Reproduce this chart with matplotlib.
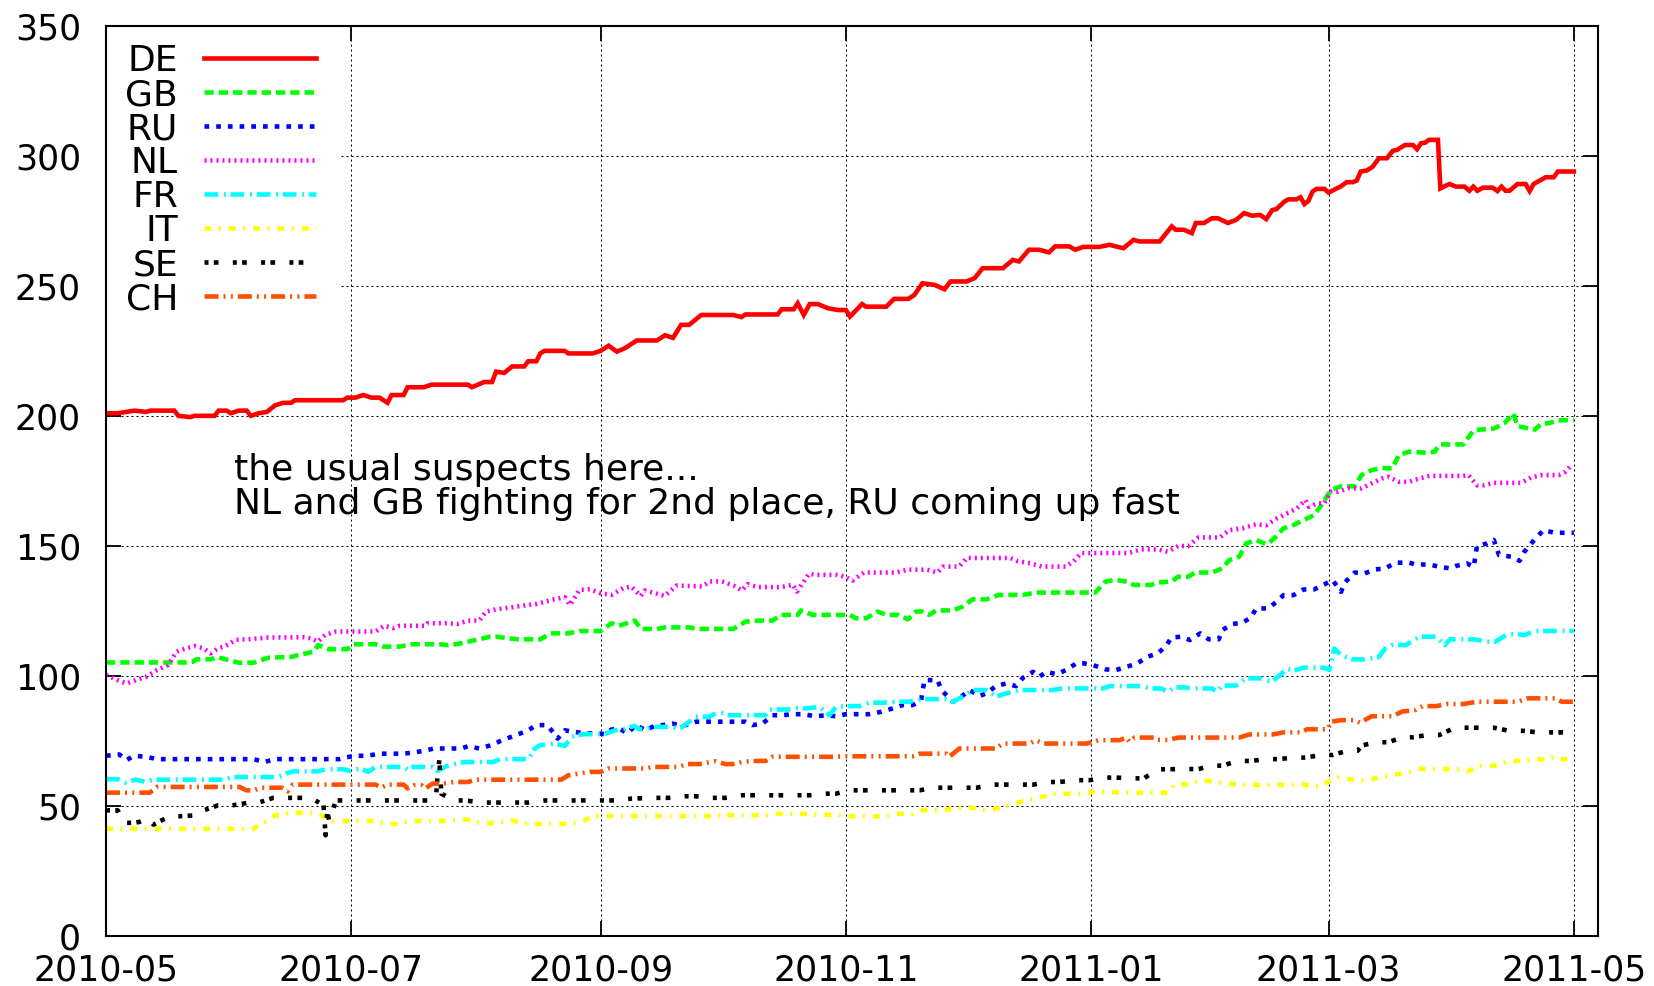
import datetime as dt
import numpy as np
import matplotlib
matplotlib.use("Agg")
import matplotlib.pyplot as plt
import matplotlib.dates as mdates
from matplotlib.patches import Rectangle

plt.rcParams['font.family'] = ['DejaVu Sans']
plt.rcParams['lines.scale_dashes'] = False

# ---------------- data (day offset from 2010-05-01, value) ----------------
START = dt.date(2010, 5, 1)
COUNTRIES = ['DE', 'GB', 'RU', 'NL', 'FR', 'IT', 'SE', 'CH']
Y_TICKS = [0, 50, 100, 150, 200, 250, 300, 350]
ANNOTATION = ["the usual suspects here...",
              "NL and GB fighting for 2nd place, RU coming up fast"]

DE = [(0, 201), (3, 201), (7, 202), (10, 201.5), (11, 202), (17, 202), (18, 200), (21, 199.5),
      (22, 200), (27, 200), (28, 202), (30, 202), (31, 201), (33, 202), (35, 202), (36, 200),
      (38, 201), (40, 201.5), (42, 204), (44, 205), (46, 205), (47, 206), (59, 206), (60, 207),
      (62, 207), (64, 208), (66, 207), (68, 207), (70, 205), (71, 208), (74, 208), (75, 211),
      (79, 211), (81, 212), (90, 212), (91, 211), (94, 213), (96, 213), (97, 217), (99, 216.5),
      (101, 219), (104, 219), (105, 221), (107, 221), (108, 224), (109, 225), (114, 225),
      (115, 224), (121, 224), (123, 225), (125, 227), (127, 224.7), (129, 226), (132, 229),
      (137, 229), (139, 231), (141, 230), (143, 235), (145, 235), (148, 238.8), (156, 238.8),
      (158, 238), (159, 239), (167, 239), (168, 241), (171, 241), (172, 243.3), (173.5, 238.8),
      (175, 243), (177, 243), (179.5, 241.4), (182, 240.7), (184, 240.7), (185, 238.2),
      (188, 243), (189, 242), (194, 242), (196, 245), (199.5, 245), (201, 246.5), (203, 251),
      (206, 250.4), (208.5, 248.7), (210, 251.7), (214, 251.7), (216, 253), (218, 256.8),
      (223, 256.8), (225.5, 260), (227, 259.4), (229.5, 263.9), (232, 263.9), (234.5, 262.9),
      (236, 265.2), (239.5, 265.2), (241, 263.9), (243, 265), (247, 265), (249.5, 265.8),
      (253, 264.5), (255.5, 267.7), (257, 267.1), (262, 267.1), (265, 272.9), (266, 271.6),
      (268, 271.6), (270, 270.3), (271, 274.2), (273, 274.2), (275, 276), (276.5, 276),
      (279, 274.2), (281, 275.4), (283, 278), (285, 277), (287, 277.3), (288.5, 275.7),
      (290, 279.2), (291, 279.5), (293, 282.4), (294, 283.3), (296, 283.3), (297, 284.1),
      (298, 281.5), (299, 282.7), (300, 286.3), (301, 287.3), (303, 287.3), (304, 285.9),
      (306, 287.5), (307, 288.2), (308.5, 289.9), (310, 289.9), (311, 290.5), (312, 294),
      (313.5, 294.4), (315, 295.9), (316.5, 299.1), (318.5, 299.1), (320, 302), (321, 302.3),
      (323, 304.2), (325, 304.2), (326, 302.6), (327, 304.9), (328, 305.1), (329, 306.2),
      (331.2, 306.2), (331.8, 287.5), (334, 289.2), (335.7, 288.2), (337.8, 288.2), (339, 286.6),
      (340, 288.2), (341, 286.6), (342.4, 287.8), (344.8, 287.8), (346, 286.5), (347, 288.2),
      (348, 286.6), (349, 286.6), (351, 289.2), (353, 289.2), (354, 286.5), (355, 289.2),
      (358, 291.8), (360, 291.8), (361, 294), (365, 294)]

GB = [(0, 105.1), (20, 105.1), (21.6, 105.4), (22.5, 106.3), (26, 106.3), (27.8, 107.1),
      (30.5, 106), (33, 105), (36.7, 105), (40.3, 106.9), (43, 107.1), (45.6, 107.1),
      (49.2, 108.4), (51.8, 109.3), (52.7, 111.8), (55.4, 110.2), (60, 110.2), (61.6, 112.1),
      (67, 112.1), (69, 111.2), (73, 111.2), (76, 112.1), (83, 112.1), (85, 111.8), (87.4, 112.2),
      (90, 113.1), (92.8, 114), (95.4, 115), (97.2, 115), (100, 114.4), (102.5, 114), (108, 114),
      (110.6, 116.3), (115, 116.3), (117.7, 117.2), (123, 117.2), (125.7, 120.2), (127.5, 119.2),
      (131.5, 121.2), (133, 118), (137, 118), (139, 118.6), (145, 118.6), (147, 118), (156, 118),
      (159, 120.8), (162.4, 121.2), (165.7, 121.2), (168, 123.4), (172, 123.4), (172.8, 125.1),
      (175.7, 123.4), (185, 123.4), (186.5, 122.1), (189, 122.1), (191.9, 124.7), (194, 123.4),
      (197, 123.4), (199.4, 121.7), (201.4, 124.7), (203, 124.7), (204.7, 123.4), (206.4, 125.1),
      (210.6, 125.1), (213, 126.6), (215.5, 129.4), (219, 129.4), (222, 131.1), (228, 131.1),
      (231.3, 132), (246, 132), (248.5, 136.2), (251, 136.9), (253.9, 136.2), (255.6, 134.9),
      (259.8, 134.9), (261.5, 135.9), (264.9, 136.2), (266.6, 138.1), (269.1, 138.1),
      (270.8, 139.7), (275, 139.7), (277.6, 141.3), (279.3, 144.5), (281.8, 145.8),
      (283.5, 150.9), (286, 152.2), (288.5, 150.6), (290.2, 152.4), (292.8, 156.7), (295.3, 158),
      (297.8, 159.9), (300.4, 161.8), (302.5, 166.3), (304.6, 171.4), (307.1, 172.9),
      (310.5, 172.9), (312.2, 177.2), (314.7, 179.1), (317.3, 180), (319.8, 179.7),
      (321.5, 184.9), (324, 186.2), (328.2, 185.8), (330.4, 186.2), (331.6, 189), (337.5, 189),
      (340.1, 194.5), (345.1, 195.1), (347.7, 197.1), (350, 200.9), (351, 196), (355.3, 194.7),
      (357, 197.1), (358.6, 197.1), (361.2, 198.3), (365, 198.3)]

RU = [(0, 69.2), (3.3, 69.7), (5.1, 67.5), (6.9, 69.2), (10, 68.8), (12.7, 67.9), (36.7, 67.9),
      (39.4, 66.8), (42, 67.9), (58, 67.9), (59.4, 68.5), (62, 69.2), (65, 69.2), (67.9, 70),
      (74, 70), (76.3, 70.4), (79, 71.1), (81.6, 72), (88.3, 72), (90.1, 72.9), (92.8, 72),
      (95.9, 73.3), (98.1, 74.9), (100.3, 76.2), (102.5, 77.5), (104.8, 78.8), (107, 81),
      (109.7, 81), (111.4, 77.8), (112.3, 75.8), (114.1, 79), (116.3, 78.4), (119.5, 77.8),
      (122.1, 77.8), (123.9, 77.5), (125.7, 79.3), (127.6, 79.7), (129.7, 77.8), (131.7, 81),
      (134.2, 79), (136.8, 81), (138.4, 81), (140.8, 81.6), (143.3, 80.6), (146.7, 82.3),
      (159, 82.3), (160.8, 81), (163.3, 81.6), (165.7, 84.8), (168.2, 84.8), (170.7, 85.2),
      (173.2, 85.2), (176.5, 84.4), (179, 84.8), (181.5, 84.4), (184, 85.2), (189.8, 85.2),
      (192.7, 86.1), (195.6, 87.4), (198.1, 88.7), (200.6, 88.7), (202.7, 90.6), (203.5, 98.3),
      (206.8, 98.3), (207.7, 94.5), (210.6, 90), (212.2, 91.3), (214.7, 94.5), (217.2, 92.2),
      (218.9, 93.2), (221.3, 96), (223.8, 97), (226.3, 96), (228, 99.2), (230.5, 101.5),
      (232.1, 99.6), (233.8, 101.5), (236.3, 100.6), (238.8, 102.2), (241.3, 104.8),
      (242.9, 104.8), (245.4, 104.1), (248.7, 102.4), (251.2, 102.2), (253.9, 103.5),
      (256.4, 104.7), (259, 107.3), (261.5, 108.6), (263.6, 111.4), (264.9, 114.7), (267.4, 115),
      (269.5, 113.7), (272.1, 116.3), (274.2, 114), (276.7, 114), (277.6, 117.6), (280.1, 119.9),
      (282.6, 120.4), (284.7, 122.4), (286, 125.9), (289, 125.9), (291.1, 128.5), (292.8, 131),
      (295.3, 131), (297.8, 133.2), (300.4, 133.2), (302.9, 135.1), (305, 136.8), (307.1, 132.3),
      (308, 135.8), (310.5, 139.7), (313, 139.4), (315.6, 140.9), (318.1, 141.3), (320.6, 143.5),
      (324, 143.5), (325.7, 142.8), (329.1, 142.8), (331.6, 141.9), (334.2, 141.3),
      (335.8, 142.3), (338.4, 143.2), (340.1, 141.9), (340.9, 149.9), (343.4, 150.9),
      (345.1, 152.2), (346.4, 146.4), (349.4, 145.8), (351.5, 144.2), (352.7, 147.7),
      (354.4, 150.9), (357.4, 156), (360.3, 155), (365, 155)]

NL = [(0, 100.3), (2.9, 98.3), (5.1, 97), (7.4, 98.3), (10, 99.6), (12.7, 102.2), (15.4, 104.1),
      (17.6, 109.3), (19.8, 110.5), (22, 111.4), (24.3, 110.5), (26, 108.6), (27.8, 110.5),
      (29.6, 111.4), (32.3, 113.8), (35.8, 114.1), (40.3, 114.7), (49.2, 114.8), (51, 114.4),
      (52.7, 113.1), (54.5, 115.7), (57.2, 117), (67, 117), (69.2, 119.2), (71.4, 118.3),
      (73, 119.2), (79.4, 119.2), (80, 120.2), (84.8, 120.2), (87.4, 119.9), (90, 121.2),
      (92.8, 121.2), (94.5, 124.7), (97.2, 125.6), (100.8, 126.3), (103.4, 126.9), (107, 127.6),
      (111.4, 129.4), (114.1, 130.2), (115.4, 127.2), (117.7, 133), (120.3, 133.3), (123, 131.7),
      (125.7, 131.1), (128.6, 133.7), (130.6, 134.3), (133, 130.7), (134, 132.8), (136.5, 131.8),
      (138.9, 130.7), (141.9, 134.7), (148.2, 134.3), (150.2, 136.3), (153.2, 136.3),
      (156.1, 134.6), (158.1, 132.8), (159.5, 135.2), (162, 134.1), (167.9, 134.1), (170.8, 135),
      (171.8, 132.4), (174.8, 139.2), (176.7, 138.8), (181.6, 138.8), (183.6, 138.2),
      (185.6, 136.6), (188.5, 139.7), (196.4, 139.7), (199.3, 140.8), (204.2, 140.8),
      (206.7, 139.7), (208.2, 142), (212.1, 142), (214.1, 145.3), (224.9, 145.3), (226.8, 144),
      (229.8, 143.3), (232.7, 142), (238.6, 142), (240.6, 144), (242.5, 147.2), (254.3, 147.2),
      (257.3, 148.6), (261.5, 148.6), (264, 147.7), (266.6, 149.9), (269.1, 149.9),
      (271.7, 153.2), (277, 153.2), (279.3, 156), (282.6, 156.7), (286, 158.3), (288.5, 157.9),
      (291.1, 160.5), (293.6, 162.4), (296.1, 164.4), (298.3, 167.6), (299.1, 165),
      (301.2, 166.3), (302.9, 166.3), (304.6, 170.8), (306.3, 170.8), (308.8, 172.1),
      (312.2, 172.1), (314.7, 174), (317.3, 175.9), (319, 176.5), (321.5, 174.6), (324, 174.6),
      (326.6, 175.9), (329.1, 176.9), (337.5, 176.9), (338.8, 177.2), (340.9, 173.3),
      (342.6, 173.3), (345.1, 174.2), (351.9, 174.2), (354.4, 176.3), (357, 177.2),
      (361.2, 177.2), (362.9, 178.5), (364.6, 181.4)]

FR = [(0, 60.2), (2.9, 60.2), (4.7, 58.9), (7.4, 60), (10, 59.1), (11.8, 60), (29.6, 60),
      (31.4, 61), (43, 61), (44.7, 62.3), (46.5, 63.2), (52.7, 63.2), (54.5, 64), (59, 64),
      (60.7, 63.4), (63.4, 64.3), (65.2, 63), (67, 64.9), (74, 64.9), (75, 63.9), (76.3, 64.9),
      (81.2, 64.9), (82.5, 63.4), (84.8, 65.3), (89.2, 66.8), (96.3, 66.8), (98, 67.9),
      (105, 67.9), (106.6, 72), (108, 73.3), (109.7, 73.3), (111.4, 73.9), (114.1, 73),
      (115.9, 76.5), (118.6, 77.5), (122, 77.5), (124.3, 77.8), (126.6, 79), (129, 79.5),
      (131.3, 80.7), (132.6, 79.4), (134.2, 79.4), (135.9, 80.3), (140.8, 80.3), (142.1, 79.7),
      (143.3, 80.3), (146.7, 84.2), (150, 84.2), (151.6, 85.5), (153.3, 85.5), (154.9, 84.8),
      (164, 84.8), (164.9, 87), (170.7, 87), (171.6, 87.4), (174, 87.4), (177.4, 88),
      (179.9, 84.8), (181.5, 88), (184, 88.3), (187.3, 88.3), (189.8, 89.6), (193.1, 89.6),
      (196.4, 90), (199.8, 90), (203, 91), (208.9, 91), (210.6, 90), (213, 91.9), (215.5, 94.5),
      (218.9, 94.5), (221.3, 91.9), (223.8, 93.2), (227, 94.5), (235.4, 94.5), (237.9, 95.1),
      (247.9, 95.1), (249.6, 96), (257.3, 96), (259.8, 95.1), (262.4, 95.1), (264, 93.8),
      (265.7, 95.5), (268.3, 95.5), (270, 95.1), (275, 95.1), (276.3, 93.8), (277.6, 96.2),
      (281, 96.2), (283.5, 99), (286.9, 99), (289.8, 97.7), (292, 100.3), (293.6, 102.8),
      (295.3, 101.9), (297.8, 103.1), (302.9, 103.1), (304.2, 102.2), (305.4, 110.5),
      (307.1, 107.9), (309.7, 106.3), (313, 106.3), (316.4, 107.1), (318.1, 110.5),
      (319.8, 111.8), (323.2, 111.8), (326.6, 115), (330.8, 115), (332.9, 111.8), (334.2, 114),
      (340.1, 114), (343.4, 113.1), (345.5, 113.1), (348.5, 116), (351, 116), (352.7, 115.6),
      (355.3, 117.2), (365, 117.2)]

IT = [(0, 41.1), (36.7, 41.1), (38.5, 43), (40.3, 44.1), (42, 46.3), (43.8, 46.3), (45.6, 47.2),
      (52.7, 47.2), (54.5, 45.4), (56.3, 44.1), (67, 44.1), (69.6, 43), (72.3, 43), (75.9, 44.1),
      (84.8, 44.1), (89.6, 44.7), (92.8, 43.4), (97.2, 43.3), (100.8, 44.3), (105.2, 43),
      (115, 43), (118.6, 44.1), (121.2, 46), (152.5, 46), (153.3, 45.4), (154.9, 46.3), (164, 46.3),
      (166.6, 46.9), (173.2, 46.9), (177.4, 46.5), (181.5, 46.5), (185.7, 45.9), (193.1, 45.9),
      (197.3, 46.9), (200.6, 46.9), (202.3, 48.2), (208, 48.2), (212.2, 49.2), (215.5, 49.2),
      (218.9, 48.2), (222.2, 49.1), (227.2, 51.4), (231.3, 52.7), (235.4, 54.6), (243.8, 54.6),
      (245.4, 55.3), (257, 55), (264, 55), (265.7, 58.2), (269.1, 58.2), (271.2, 59.2),
      (274.2, 59.5), (277.6, 58.8), (281.8, 58), (298.7, 58), (302.1, 57), (303.8, 59.2),
      (306.3, 60.8), (309.7, 60.1), (313, 59.5), (316.4, 60.8), (319.8, 61.8), (324, 62.7),
      (326.6, 64.1), (335.8, 64.1), (338.4, 63.1), (341.8, 65.3), (345.1, 65.3), (348.9, 67.2),
      (352.7, 67.2), (354.4, 67.9), (358.6, 67.9), (360.3, 69.1), (362, 67.9), (365, 67.9)]

SE = [(0, 48.2), (2.9, 48.2), (4.7, 43.4), (6.5, 43.4), (8.2, 43.7), (10.5, 45), (11.8, 42.7),
      (15.8, 45.9), (18, 45.9), (22.5, 46.3), (24.3, 48.2), (27.8, 50.1), (31.4, 50.1),
      (34.9, 51), (37.6, 51), (41.6, 53), (51, 53), (54.1, 50.1), (54.6, 38.6), (55, 47.6),
      (55.5, 44.3), (57.2, 52), (81, 52), (82.1, 54), (82.5, 63.6), (82.9, 67.5), (83.4, 54.6),
      (86.5, 52), (89.2, 52), (93.7, 51.2), (105, 51.2), (109.2, 52), (126.6, 52), (130.6, 52.7),
      (135.9, 53), (140, 53), (144, 53.6), (146.7, 53.6), (150.8, 53), (154, 53), (158.3, 54),
      (175, 54), (179, 54.6), (181.5, 54.6), (184.8, 55.9), (202.3, 55.9), (206, 56.9),
      (216.4, 56.9), (220.5, 58.1), (230.5, 58.1), (234.6, 59.1), (237, 59.1), (241.3, 59.8),
      (244.6, 59.8), (247.9, 60.8), (251.2, 60.8), (254.7, 60.5), (258.1, 60.5), (261.5, 64),
      (271.7, 64.1), (275, 65.4), (277.6, 65.4), (281.4, 67.2), (284.7, 67.2), (288.5, 67.9),
      (291.5, 67.9), (295.3, 68.5), (298.3, 68.5), (302.1, 69.5), (305, 69.5), (308.8, 71.2),
      (311.3, 71.2), (312.2, 73.1), (315.6, 74.4), (318.9, 74.4), (322.3, 76.3), (324.9, 76.3),
      (328.7, 77.2), (331.6, 77.2), (335.4, 80), (345.1, 80), (348.9, 78.8), (352.3, 78.8),
      (356.1, 78.2), (365, 78.2)]

CH = [(0, 55), (10.9, 55), (12.7, 57.2), (33.2, 57.2), (34.9, 55.9), (36.7, 55.9), (38.5, 56.9),
      (43.8, 56.9), (45.2, 55.5), (46.5, 58.1), (67, 58.1), (68.5, 57), (70, 58.1), (74, 58.1),
      (75, 56.6), (76.5, 57.8), (78.5, 57.8), (79.4, 56.6), (81.2, 58.5), (83.9, 58.5),
      (86.5, 59.1), (90, 59.1), (92, 60), (113.2, 60), (115, 61.7), (118.6, 62.6), (120.3, 63),
      (123, 63), (124.8, 64.3), (134.2, 64.3), (135.9, 64.9), (142.5, 64.9), (144.2, 66),
      (147.5, 66), (151.6, 67.1), (154, 66), (155.8, 66), (158.3, 66.8), (160.8, 67.2), (164, 67.2),
      (165.7, 68.8), (180.7, 68.8), (184, 69), (200.6, 69), (202.3, 70), (208.9, 70), (209.7, 68.8),
      (212.2, 72), (221.3, 72), (223, 73.9), (229.6, 73.9), (231.3, 75.2), (233, 73.9),
      (243.8, 73.9), (247, 75.2), (252, 75.2), (253.7, 76.2), (254.5, 74.6), (255.8, 76.2),
      (260.7, 76.2), (261.5, 75.3), (264, 75.3), (266.6, 76.2), (281.8, 76.2), (284.3, 77.4),
      (290.2, 77.4), (292.8, 78.2), (297, 78.2), (298.7, 79.4), (303.8, 79.4), (304.6, 82.3),
      (307.1, 82.9), (310.5, 82.9), (311.8, 81.9), (314.7, 84.4), (319.8, 84.4), (322.3, 86.2),
      (325.7, 86.8), (327.4, 88.3), (330.8, 88.3), (333.3, 89.1), (337.5, 89.1), (340.9, 90),
      (351, 90), (353.6, 91.3), (360.3, 91.3), (362, 90), (365, 90)]

SERIES = {'DE': DE, 'GB': GB, 'RU': RU, 'NL': NL, 'FR': FR, 'IT': IT, 'SE': SE, 'CH': CH}

# ---------------- styles (gnuplot look) ----------------
PT = 1 / 1.389  # pixels -> points at 100 dpi
STYLE = {
    'DE': dict(color='#ff0000', ls='-'),
    'GB': dict(color='#00ff00', ls=(0, (9.3 * PT, 5.0 * PT))),
    'RU': dict(color='#0000ff', ls=(0, (4.7 * PT, 7.0 * PT))),
    'NL': dict(color='#ff00ff', ls=(0, (2.0 * PT, 4.0 * PT))),
    'FR': dict(color='#00ffff', ls=(0, (13.7 * PT, 5.7 * PT, 2.0 * PT, 4.7 * PT))),
    'IT': dict(color='#ffff00', ls=(0, (7.0 * PT, 7.3 * PT, 2.0 * PT, 8.0 * PT))),
    'SE': dict(color='#000000', ls=(0, (4.0 * PT, 5.3 * PT, 4.7 * PT, 14.3 * PT))),
    'CH': dict(color='#ff5000', ls=(0, (14.0 * PT, 5.0 * PT, 2.0 * PT, 5.3 * PT, 2.0 * PT, 5.0 * PT))),
}
LW = 3.3

W, H = 1654, 986
fig = plt.figure(figsize=(W / 100, H / 100), dpi=100)
ax_l, ax_r, ax_t, ax_b = 106, 1598, 26, 935.6
ax = fig.add_axes([ax_l / W, 1 - ax_b / H, (ax_r - ax_l) / W, (ax_b - ax_t) / H])

base = mdates.date2num(START)
handles = []
for c in COUNTRIES:
    d, v = zip(*SERIES[c])
    x = base + np.asarray(d, dtype=float)
    ln, = ax.plot(x, v, color=STYLE[c]['color'], linestyle=STYLE[c]['ls'],
                  linewidth=LW, solid_joinstyle='miter', dash_capstyle='butt', label=c,
                  zorder=2)
    handles.append(ln)

ax.set_xlim(base, base + 371)
ax.set_ylim(0, 350)
ax.set_yticks(Y_TICKS)
ax.xaxis.set_major_locator(mdates.MonthLocator(bymonth=[1, 3, 5, 7, 9, 11]))
ax.xaxis.set_major_formatter(mdates.DateFormatter('%Y-%m'))

ax.grid(True, color='black', linestyle=(0, (2 * PT, 3 * PT)), linewidth=0.75)
for s in ax.spines.values():
    s.set_linewidth(1.5)
ax.tick_params(axis='both', which='major', direction='in', length=10.8, width=1.3,
               top=True, right=True, labelsize=25)
ax.tick_params(axis='y', pad=18)
ax.tick_params(axis='x', pad=13)

# white key area (gnuplot key hides the grid behind it)
ax.add_patch(Rectangle((0, (ax_b - 315) / (ax_b - ax_t)), (340 - ax_l) / (ax_r - ax_l), 1,
                       transform=ax.transAxes, facecolor='white', edgecolor='none', zorder=1.8))

LEG_FS = 26
leg = ax.legend(handles, COUNTRIES, loc='upper right',
                bbox_to_anchor=((316 - ax_l) / (ax_r - ax_l), (ax_b - 44) / (ax_b - ax_t)),
                frameon=False, markerfirst=False, fontsize=LEG_FS,
                handlelength=112 / (LEG_FS * 1.389), handletextpad=26 / (LEG_FS * 1.389),
                labelspacing=0.0, borderpad=0, borderaxespad=0)
leg.set_zorder(3)

ax.text((234 - ax_l) / (ax_r - ax_l), (ax_b - 480) / (ax_b - ax_t), ANNOTATION[0],
        transform=ax.transAxes, fontsize=26, va='baseline', ha='left')
ax.text((234 - ax_l) / (ax_r - ax_l), (ax_b - 514) / (ax_b - ax_t), ANNOTATION[1],
        transform=ax.transAxes, fontsize=26, va='baseline', ha='left')

fig.savefig('out.png', dpi=100)
